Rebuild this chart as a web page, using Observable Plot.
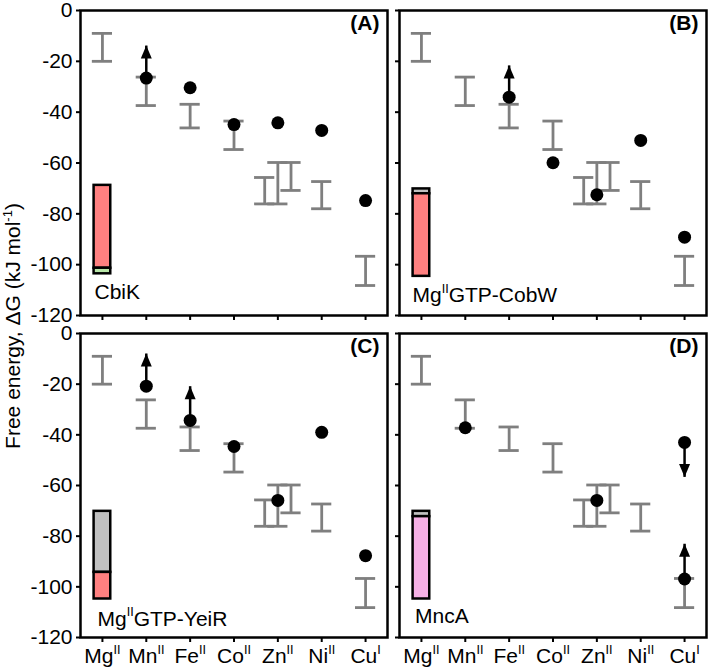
<!DOCTYPE html>
<html><head><meta charset="utf-8">
<script src="https://cdn.jsdelivr.net/npm/d3@7"></script>
<script src="https://cdn.jsdelivr.net/npm/@observablehq/plot@0.6"></script>
<style>
body{margin:0;background:#fff;}
#wrap{position:relative;width:709px;height:672px;font-family:"Liberation Sans",Arial,sans-serif;overflow:hidden;}
.panel{position:absolute;}
.panel svg{overflow:visible;}
#ylab{position:absolute;left:12px;top:326px;transform:translate(-50%,-50%) rotate(-90deg);white-space:nowrap;font-size:21px;color:#000;}
#ylab sup{font-size:13px;}
</style></head><body><div id="wrap"><div id="ylab">Free energy, ΔG (kJ mol<sup>-1</sup>)</div></div>
<script>
// categories and tick labels
const metals = ["Mg","Mn","Fe","Co","Zn","Ni","Cu"];
const oxStates = ["II","II","II","II","II","II","I"];
const yTicks = [0,-20,-40,-60,-80,-100,-120];

// grey reference ranges (same in all panels); Zn has three dodged ranges
const refMetal = ["Mg","Mn","Fe","Co","Zn","Zn","Zn","Ni","Cu"];
const refSlot  = [0,0,0,0,-1,0,1,0,0];
const refHigh  = [-9.0,-26.2,-36.9,-43.5,-65.7,-59.8,-59.8,-67.3,-96.7];
const refLow   = [-20.0,-37.4,-46.2,-54.7,-76.1,-76.1,-70.8,-78.0,-108.2];

// panels
const panelIds = ["A","B","C","D"];
const proteins = ["CbiK","Mg{II}GTP-CobW","Mg{II}GTP-YeiR","MncA"];

// black points
const dotPanel = ["A","A","A","A","A","A","B","B","B","B","B","C","C","C","C","C","C","D","D","D","D"];
const dotMetal = ["Mn","Fe","Co","Zn","Ni","Cu","Fe","Co","Zn","Ni","Cu","Mn","Fe","Co","Zn","Ni","Cu","Mn","Zn","Cu","Cu"];
const dotValue = [-26.6,-30.4,-44.9,-44.2,-47.2,-74.8,-34.1,-59.9,-72.5,-51.1,-89.2,-20.8,-34.3,-44.6,-65.9,-39.0,-87.7,-37.2,-65.9,-43.0,-96.9];

// limit arrows
const arrowPanel = ["A","B","C","C","D","D"];
const arrowMetal = ["Mn","Fe","Mn","Fe","Cu","Cu"];
const arrowFrom  = [-26.6,-34.1,-20.8,-34.3,-43.0,-96.9];
const arrowTo    = [-13.8,-21.6,-7.9,-20.8,-56.6,-83.0];

// occupancy bars (stacked segments at Mg position)
const segPanel  = ["A","A","B","B","C","C","D","D"];
const segKind   = ["Co","Ni","apo","Co","apo","Co","apo","Mn"];
const segTop    = [-68.8,-101.4,-70.2,-72.1,-70.2,-94.3,-70.2,-72.3];
const segBottom = [-101.4,-103.6,-72.1,-104.6,-94.3,-104.8,-72.3,-104.8];
const kinds      = ["Co","Ni","apo","Mn"];
const kindColors = ["#ff8080","#b8e6a8","#c0c0c0","#f5b0e5"];

// layout (pixels) for the protein name in each panel
const nameDx = [14, 13, 17, 15.5];
const nameDy = [-17, -13.5, -12, -15];

const triUp = {draw(ctx){ctx.moveTo(0,0);ctx.lineTo(5.5,13);ctx.lineTo(-5.5,13);ctx.closePath();}};
const triDown = {draw(ctx){ctx.moveTo(0,0);ctx.lineTo(5.5,-13);ctx.lineTo(-5.5,-13);ctx.closePath();}};

function supify(svg){
  d3.select(svg).selectAll("text").each(function(){
    const t = this.textContent;
    if (!t.includes("{")) return;
    const parts = t.split(/(\{[^}]*\})/).filter(s => s.length);
    this.textContent = "";
    let raised = false;
    for (const p of parts) {
      const ts = d3.select(this).append("tspan");
      if (p.startsWith("{")) {
        ts.text(p.slice(1,-1)).attr("font-size","0.6em").attr("dy","-0.75em");
        raised = true;
      } else {
        ts.text(p);
        if (raised) { ts.attr("dy","0.45em"); raised = false; }
      }
    }
  });
}

const wrap = document.getElementById("wrap");
panelIds.forEach((id, idx) => {
  const col = idx % 2, row = Math.floor(idx / 2);
  const ml = col ? 10 : 80, mr = col ? 3 : 1;
  const mt = 10, mb = row ? 35 : 8;
  const innerH = row ? 304 : 305;
  const width = ml + 307 + mr, height = mt + innerH + mb;
  const refs = refMetal.map((m,i) => ({x: metals.indexOf(m) + refSlot[i]*0.3, hi: refHigh[i], lo: refLow[i]}));
  const dots = dotPanel.map((p,i) => ({p, x: metals.indexOf(dotMetal[i]), y: dotValue[i]})).filter(d => d.p === id);
  const arrows = arrowPanel.map((p,i) => ({p, x: metals.indexOf(arrowMetal[i]), from: arrowFrom[i], to: arrowTo[i]})).filter(d => d.p === id);
  const segs = segPanel.map((p,i) => ({p, x: 0, top: segTop[i], bottom: segBottom[i], kind: segKind[i]})).filter(d => d.p === id);
  const capW = 0.23, barW = 0.19;
  const grey = "#7f7f7f";
  const svg = Plot.plot({
    width, height, marginLeft: ml, marginRight: mr, marginTop: mt, marginBottom: mb,
    style: {fontFamily: "'Liberation Sans', Arial, sans-serif", fontSize: "21px", background: "transparent", color: "#000", overflow: "visible"},
    x: {domain: [-0.5, 6.5]},
    y: {domain: [-120, 0]},
    color: {domain: kinds, range: kindColors},
    marks: [
      Plot.ruleX(refs, {x: "x", y1: "hi", y2: "lo", stroke: grey, strokeWidth: 2.8}),
      Plot.ruleY(refs, {y: "hi", x1: d => d.x - capW, x2: d => d.x + capW, stroke: grey, strokeWidth: 2.8}),
      Plot.ruleY(refs, {y: "lo", x1: d => d.x - capW, x2: d => d.x + capW, stroke: grey, strokeWidth: 2.8}),
      Plot.rect(segs, {x1: d => d.x - barW, x2: d => d.x + barW, y1: "top", y2: "bottom", fill: "kind", stroke: "black", strokeWidth: 2.5}),
      Plot.link(arrows, {x1: "x", x2: "x", y1: "from", y2: "to", stroke: "black", strokeWidth: 2.5}),
      Plot.dot(arrows.filter(d => d.to > d.from), {x: "x", y: "to", symbol: triUp, fill: "black", stroke: "none"}),
      Plot.dot(arrows.filter(d => d.to < d.from), {x: "x", y: "to", symbol: triDown, fill: "black", stroke: "none"}),
      Plot.dot(dots, {x: "x", y: "y", r: 6.5, fill: "black", stroke: "none"}),
      Plot.frame({stroke: "black", strokeWidth: 2.5}),
      Plot.axisY({ticks: yTicks, tickSize: 4, tickPadding: 4, strokeWidth: 2, label: null, tickFormat: col ? () => "" : d => String(d)}),
      Plot.axisX({ticks: d3.range(7), tickSize: 5, tickPadding: 6, strokeWidth: 2, label: null, tickFormat: row ? i => metals[i] + "{" + oxStates[i] + "}" : () => ""}),
      Plot.text(["(" + id + ")"], {text: d => d, frameAnchor: "top-right", dx: -8, dy: 5, lineAnchor: "top", fontWeight: "bold"}),
      Plot.text([proteins[idx]], {text: d => d, frameAnchor: "bottom-left", dx: nameDx[idx], dy: nameDy[idx], lineAnchor: "bottom", textAnchor: "start"})
    ]
  });
  supify(svg);
  const div = document.createElement("div");
  div.className = "panel";
  div.style.left = (col ? 389 : 0) + "px";
  div.style.top = (row ? 323 : 0) + "px";
  div.appendChild(svg);
  wrap.appendChild(div);
});
</script></body></html>
